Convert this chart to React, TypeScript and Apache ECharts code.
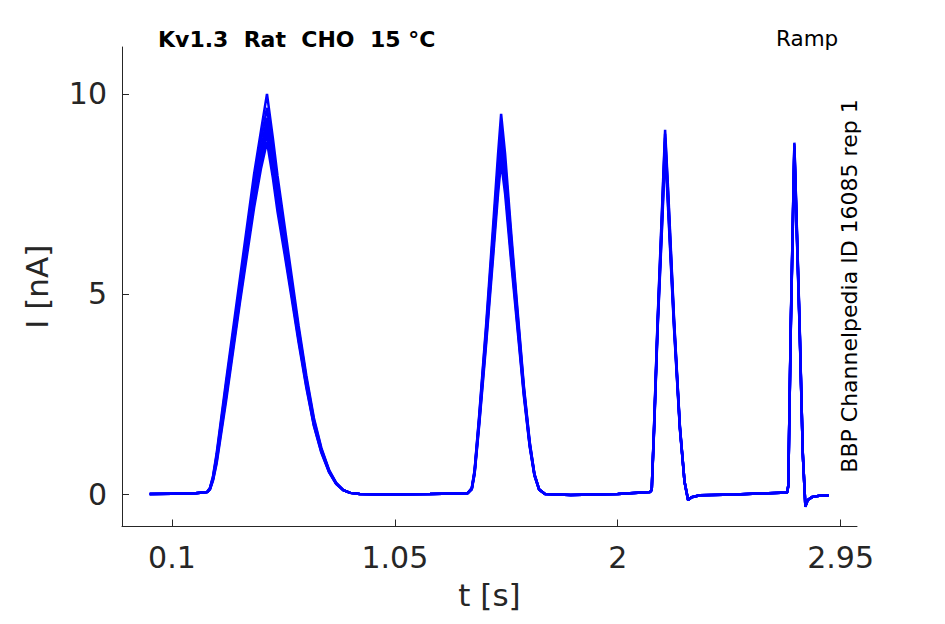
import React, { useEffect, useRef } from "react";
import * as echarts from "echarts";

// time points (s)
const T = [
  0.005, 0.1, 0.2, 0.25,
  0.262, 0.275, 0.29, 0.33, 0.39, 0.45, 0.48, 0.505,
  0.53, 0.55, 0.58, 0.61, 0.64, 0.673, 0.705, 0.737, 0.77, 0.8, 0.83, 0.86, 0.9,
  1.0, 1.2, 1.36,
  1.378, 1.39, 1.41, 1.44, 1.47, 1.49, 1.503, 1.52, 1.545, 1.57, 1.6, 1.625, 1.645, 1.665, 1.69,
  1.8, 2.0, 2.138,
  2.145, 2.155, 2.17, 2.19, 2.202, 2.215, 2.24, 2.265, 2.285, 2.3, 2.315, 2.35,
  2.5, 2.722,
  2.727, 2.738, 2.753, 2.762, 2.775, 2.789, 2.8, 2.81, 2.83, 2.86, 2.9,
];

// current traces (nA)
const trace1 = [
  0, 0.01, 0.02, 0.05,
  0.15, 0.45, 1.0, 2.8, 5.4, 8.0, 9.1, 10.0,
  8.9, 7.95, 6.7, 5.45, 4.2, 2.95, 1.9, 1.15, 0.6, 0.28, 0.1, 0.03, 0.0,
  -0.01, 0.0, 0.02,
  0.15, 0.6, 2.0, 4.3, 6.8, 8.5, 9.5, 8.5, 6.6, 4.8, 2.7, 1.3, 0.5, 0.12, 0.0,
  -0.02, 0.0, 0.05,
  0.1, 1.7, 4.35, 7.3, 9.1, 7.6, 4.4, 1.7, 0.3, -0.15, -0.08, -0.03,
  -0.01, 0.04,
  0.2, 4.35, 8.78, 7.0, 4.35, 1.0, -0.32, -0.15, -0.07, -0.04, -0.03,
];
const trace2 = [
  0, 0.01, 0.02, 0.05,
  0.15, 0.42, 0.95, 2.7, 5.25, 7.8, 8.85, 9.65,
  8.6, 7.7, 6.5, 5.3, 4.1, 2.88, 1.85, 1.12, 0.58, 0.27, 0.1, 0.03, 0.0,
  -0.01, 0.0, 0.02,
  0.15, 0.58, 1.95, 4.2, 6.6, 8.25, 9.2, 8.25, 6.45, 4.7, 2.65, 1.28, 0.5, 0.12, 0.0,
  -0.02, 0.0, 0.05,
  0.1, 1.7, 4.3, 7.2, 9.0, 7.5, 4.35, 1.7, 0.3, -0.15, -0.08, -0.03,
  -0.01, 0.04,
  0.2, 4.3, 8.75, 6.95, 4.3, 1.0, -0.31, -0.15, -0.07, -0.04, -0.03,
];
const trace3 = [
  0, 0.01, 0.02, 0.05,
  0.14, 0.4, 0.9, 2.6, 5.1, 7.6, 8.6, 9.4,
  8.4, 7.5, 6.35, 5.2, 4.0, 2.82, 1.8, 1.1, 0.57, 0.27, 0.1, 0.03, 0.0,
  -0.01, 0.0, 0.02,
  0.14, 0.56, 1.9, 4.1, 6.45, 8.05, 8.95, 8.05, 6.3, 4.6, 2.6, 1.25, 0.5, 0.12, 0.0,
  -0.02, 0.0, 0.05,
  0.1, 1.65, 4.25, 7.1, 8.9, 7.4, 4.3, 1.68, 0.3, -0.15, -0.08, -0.03,
  -0.01, 0.04,
  0.2, 4.28, 8.7, 6.9, 4.28, 1.0, -0.31, -0.15, -0.07, -0.04, -0.03,
];
const trace4 = [
  0, 0.01, 0.02, 0.05,
  0.13, 0.38, 0.85, 2.5, 5.0, 7.45, 8.45, 9.2,
  8.2, 7.35, 6.2, 5.1, 3.92, 2.76, 1.76, 1.08, 0.56, 0.26, 0.1, 0.03, 0.0,
  -0.01, 0.0, 0.02,
  0.13, 0.54, 1.85, 4.0, 6.3, 7.85, 8.7, 7.85, 6.15, 4.5, 2.55, 1.22, 0.48, 0.11, 0.0,
  -0.02, 0.0, 0.05,
  0.1, 1.62, 4.2, 7.0, 8.8, 7.3, 4.25, 1.66, 0.3, -0.15, -0.08, -0.03,
  -0.01, 0.04,
  0.2, 4.25, 8.65, 6.85, 4.25, 1.0, -0.3, -0.15, -0.07, -0.04, -0.03,
];
const trace5 = [
  0, 0.01, 0.02, 0.05,
  0.12, 0.36, 0.8, 2.4, 4.9, 7.3, 8.3, 9.0,
  8.05, 7.2, 6.1, 5.0, 3.85, 2.7, 1.72, 1.05, 0.55, 0.26, 0.1, 0.03, 0.0,
  -0.01, 0.0, 0.02,
  0.12, 0.52, 1.8, 3.9, 6.15, 7.7, 8.5, 7.7, 6.0, 4.4, 2.5, 1.2, 0.47, 0.11, 0.0,
  -0.02, 0.0, 0.05,
  0.1, 1.6, 4.15, 6.9, 8.7, 7.2, 4.2, 1.64, 0.3, -0.15, -0.08, -0.03,
  -0.01, 0.04,
  0.2, 4.22, 8.6, 6.8, 4.22, 1.0, -0.3, -0.15, -0.07, -0.04, -0.03,
];
const trace6 = [
  0, 0.01, 0.02, 0.05,
  0.12, 0.34, 0.75, 2.3, 4.8, 7.15, 8.15, 8.8,
  7.9, 7.05, 6.0, 4.9, 3.78, 2.65, 1.7, 1.03, 0.54, 0.25, 0.1, 0.03, 0.0,
  -0.01, 0.0, 0.02,
  0.12, 0.5, 1.75, 3.8, 6.0, 7.5, 8.3, 7.5, 5.85, 4.3, 2.45, 1.18, 0.46, 0.11, 0.0,
  -0.02, 0.0, 0.05,
  0.1, 1.58, 4.1, 6.8, 8.6, 7.1, 4.15, 1.62, 0.3, -0.15, -0.08, -0.03,
  -0.01, 0.04,
  0.2, 4.2, 8.55, 6.75, 4.2, 1.0, -0.3, -0.15, -0.07, -0.04, -0.03,
];
const traces = [trace1, trace2, trace3, trace4, trace5, trace6];

const xTicks = [0.1, 1.05, 2, 2.95];
const yTicks = [0, 5, 10];

const TITLE = "Kv1.3  Rat  CHO  15 °C";
const PROTOCOL = "Ramp";
const SOURCE = "BBP Channelpedia ID 16085 rep 1";

const FONT = "DejaVu Sans";
const AXIS_COLOR = "#262626";

export default function App() {
  const ref = useRef<HTMLDivElement>(null);
  useEffect(() => {
    if (!ref.current) return;
    const chart = echarts.init(ref.current, null, { renderer: "svg" });
    const series = traces.map((tr, i) => ({
      type: "line",
      name: "trace" + (i + 1),
      data: T.map((t, k) => [t, tr[k]]),
      showSymbol: false,
      symbol: "none",
      lineStyle: { color: "#0000ff", width: 2.5 },
      z: 10 - i,
    }));
    chart.setOption({
      animation: false,
      backgroundColor: "#ffffff",
      grid: { left: 122, top: 47, right: 88, bottom: 97.5, containLabel: false },
      xAxis: {
        type: "value",
        min: -0.113,
        max: 3.02,
        name: "t [s]",
        nameLocation: "middle",
        nameGap: 53,
        nameTextStyle: { fontFamily: FONT, fontSize: 31, color: AXIS_COLOR },
        axisLine: { show: true, onZero: false, lineStyle: { color: AXIS_COLOR, width: 1 } },
        axisTick: { show: true, inside: true, length: 7, customValues: xTicks, lineStyle: { color: AXIS_COLOR } },
        axisLabel: {
          customValues: xTicks,
          margin: 16,
          fontFamily: FONT,
          fontSize: 30,
          color: AXIS_COLOR,
          formatter: (v: number) => String(v),
        },
        splitLine: { show: false },
      },
      yAxis: {
        type: "value",
        min: -0.81,
        max: 11.17,
        name: "I [nA]",
        nameLocation: "middle",
        nameGap: 70,
        nameRotate: 90,
        nameTextStyle: { fontFamily: FONT, fontSize: 31, color: AXIS_COLOR },
        axisLine: { show: true, onZero: false, lineStyle: { color: AXIS_COLOR, width: 1 } },
        axisTick: { show: true, inside: true, length: 7, customValues: yTicks, lineStyle: { color: AXIS_COLOR } },
        axisLabel: {
          customValues: yTicks,
          margin: 15,
          fontFamily: FONT,
          fontSize: 30,
          color: AXIS_COLOR,
          formatter: (v: number) => String(v),
        },
        splitLine: { show: false },
      },
      graphic: [
        {
          type: "text",
          left: 158,
          top: 28,
          style: { text: TITLE, font: `bold 22px '${FONT}'`, fill: "#000000" },
        },
        {
          type: "text",
          left: 776,
          top: 27,
          style: { text: PROTOCOL, font: `21.5px '${FONT}'`, fill: "#000000" },
        },
        {
          type: "text",
          x: 849,
          y: 286,
          rotation: Math.PI / 2,
          style: {
            text: SOURCE,
            font: `22px '${FONT}'`,
            fill: "#000000",
            align: "center",
            verticalAlign: "middle",
          },
        },
      ],
      series,
    });
    return () => chart.dispose();
  }, []);
  return (
    <div
      ref={ref}
      style={{ position: "fixed", left: 0, top: 0, width: 945, height: 624, background: "#fff" }}
    />
  );
}
